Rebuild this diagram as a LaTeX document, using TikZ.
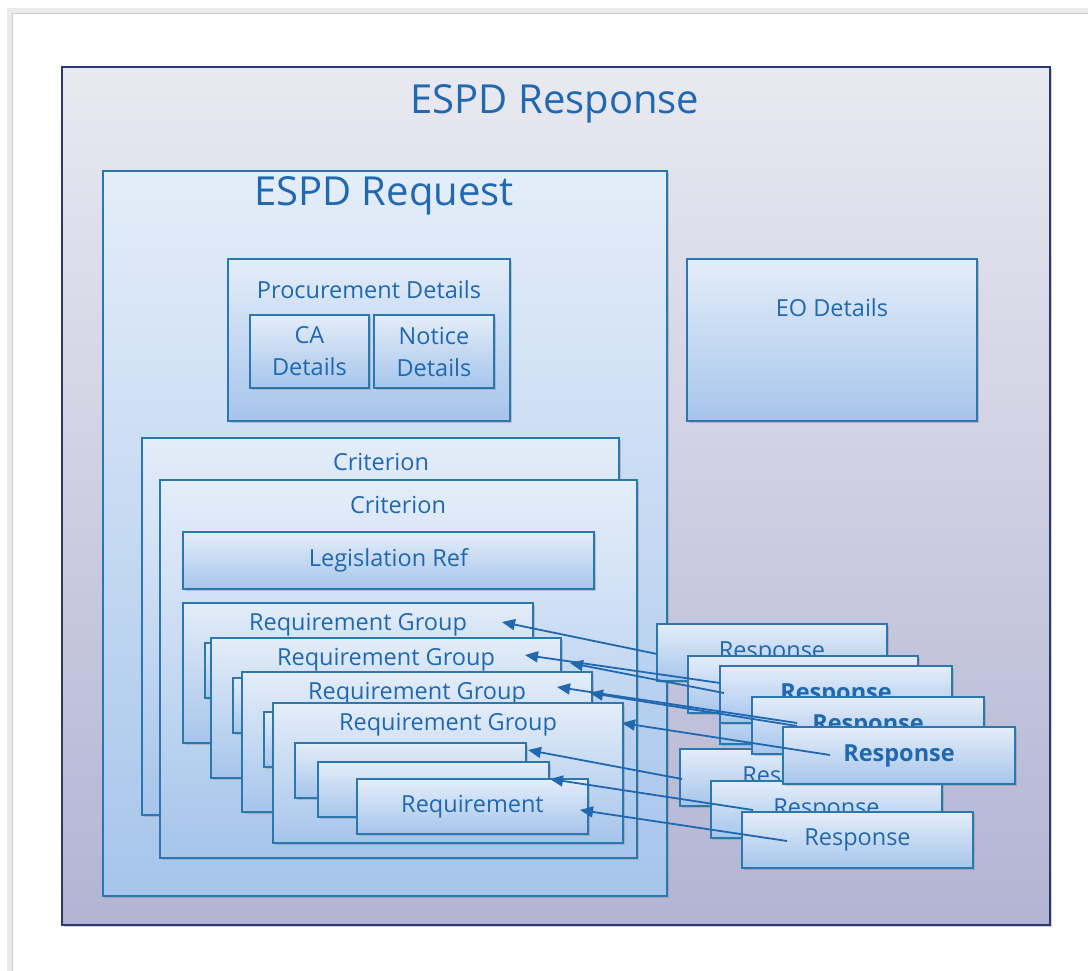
\documentclass[tikz,border=0pt]{standalone}
\usepackage{fontspec}
\setmainfont{Open Sans}
\usetikzlibrary{positioning,arrows.meta,shadows}
\definecolor{espdblue}{HTML}{2068B0}
\definecolor{boxline}{HTML}{2B78AE}
\definecolor{boxtop}{HTML}{E4EDF9}
\definecolor{boxbot}{HTML}{A6C5EB}
\definecolor{outtop}{HTML}{E9E9F1}
\definecolor{outbot}{HTML}{B2B4D3}
\definecolor{outline}{HTML}{2D3870}
\tikzset{
  blk/.style={draw=boxline, line width=1.8pt, top color=boxtop, bottom color=boxbot,
    anchor=north west, inner sep=0pt, outer sep=0pt,
    drop shadow={shadow xshift=2pt, shadow yshift=-2pt, opacity=0.35},
    text=espdblue, font=\fontsize{23.5}{32}\selectfont},
  lbl/.style={text=espdblue, font=\fontsize{23.5}{32}\selectfont, inner sep=0pt},
  big/.style={text=espdblue, font=\fontsize{40}{46}\selectfont, inner sep=0pt},
  bold/.style={font=\fontsize{23.5}{32}\selectfont\bfseries},
  link/.style={draw=espdblue, line width=1.8pt, -{Triangle[length=13pt,width=11pt]}},
}
\begin{document}
\begin{tikzpicture}[x=1pt,y=-1pt]
\useasboundingbox (0,0) rectangle (1088,971);
\fill[white] (0,0) rectangle (1088,971);
\draw[black!8, line width=5pt] (9,971) -- (9,11) -- (1088,11);
\draw[black!20, line width=1pt] (12,971) -- (12,14) -- (1088,14);

% outer and request containers
\node[blk, draw=outline, top color=outtop, bottom color=outbot,
  minimum width=988pt, minimum height=858pt] (resp) at (62,67) {};
\node[big] (resp-t) at (555,104) {ESPD Response};
\node[blk, minimum width=564pt, minimum height=725pt] (req) at (103,171) {};
\node[big] (req-t) at (384,196) {ESPD Request};

% details
\node[blk, minimum width=282pt, minimum height=162pt] (proc) at (228,259) {};
\node[lbl] (proc-t) at (369,290) {Procurement Details};
\node[blk, minimum width=119pt, minimum height=73pt, align=center] (ca) at (250,315) {CA\\Details};
\node[blk, minimum width=120pt, minimum height=73pt, align=center] (notice) at (374,315) {Notice\\Details};
\node[blk, minimum width=290pt, minimum height=162pt] (eo) at (687,259) {};
\node[lbl] (eo-t) at (832,308) {EO Details};

% criteria
\node[blk, minimum width=477pt, minimum height=377pt] (crit1) at (142,438) {};
\node[lbl] (crit1-t) at (381,462) {Criterion};
\node[blk, minimum width=477pt, minimum height=378pt] (crit2) at (160,480) {};
\node[lbl] (crit2-t) at (398,505) {Criterion};
\node[blk, minimum width=411pt, minimum height=57pt] (legis) at (183,532) {Legislation Ref};

% requirement groups
\foreach \x/\y/\n in {183/603/1,211/638/2,242/672/3,273/703/4}{
  \node[blk, minimum width=350pt, minimum height=140pt] (rg\n) at (\x,\y) {};
  \node[lbl, yshift=-22pt] at (rg\n.north) {Requirement Group};
  \node[blk, minimum width=231pt, minimum height=55pt] (rq\n) at (\x+22,\y+40) {};
}
\node[blk, minimum width=231pt, minimum height=55pt] (rq5) at (318,762) {};
\node[blk, minimum width=231pt, minimum height=55pt] (rq6) at (357,779) {Requirement};

% responses
\node[blk, minimum width=230pt, minimum height=57pt] (ra1) at (657,624) {Response};
\node[blk, minimum width=230pt, minimum height=57pt] (ra2) at (688,656) {};
\node[blk, minimum width=230pt, minimum height=57pt] (ra3) at (720,687) {};
\node[blk, minimum width=231pt, minimum height=57pt] (rc1) at (680,749) {Response};
\node[blk, minimum width=231pt, minimum height=57pt] (rc2) at (711,781) {Response};
\node[blk, minimum width=231pt, minimum height=56pt] (rc3) at (742,812) {Response};
\node[blk, bold, minimum width=232pt, minimum height=57pt] (rb1) at (720,666) {Response};
\node[blk, bold, minimum width=232pt, minimum height=57pt] (rb2) at (752,697) {Response};
\node[blk, bold, minimum width=232pt, minimum height=57pt] (rb3) at (783,727) {Response};

% links
\coordinate (a1) at (657,654); \coordinate (b1) at (502,622);
\coordinate (a2) at (720,683); \coordinate (b2) at (525,655);
\coordinate (a3) at (724,693); \coordinate (b3) at (570,663);
\coordinate (a4) at (797,723); \coordinate (b4) at (557,687);
\coordinate (a5) at (797,726); \coordinate (b5) at (590,693);
\coordinate (a6) at (830,755); \coordinate (b6) at (622,723);
\coordinate (a7) at (682,779); \coordinate (b7) at (528,750);
\coordinate (a8) at (753,810); \coordinate (b8) at (550,779);
\coordinate (a9) at (787,841); \coordinate (b9) at (580,810);
\foreach \i in {1,...,9}
  \draw[link] (a\i) -- (b\i);
\end{tikzpicture}
\end{document}
